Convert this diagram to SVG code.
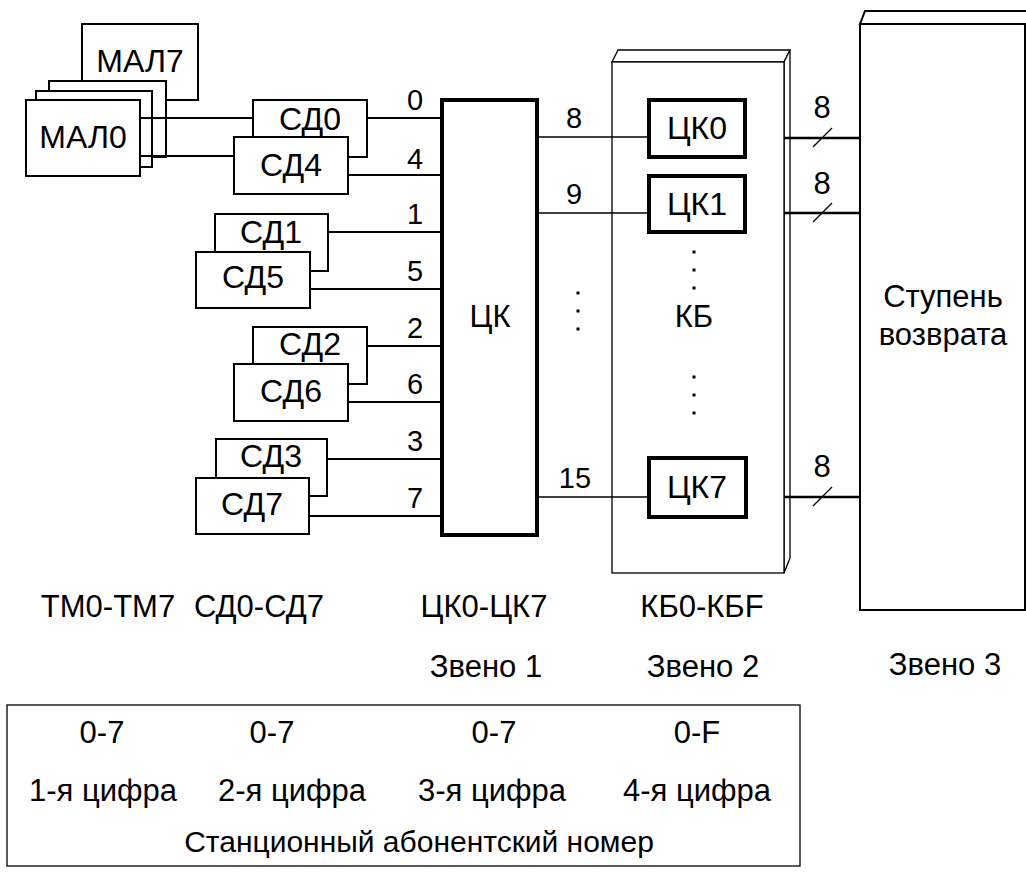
<svg xmlns="http://www.w3.org/2000/svg" width="1026" height="872" viewBox="0 0 1026 872">
<style>
text{font-family:"Liberation Sans",Arial,sans-serif;font-size:31px;fill:#000;text-anchor:middle}
.pin{font-size:29px}
.big{font-size:32px}
.long{font-size:30px}
.box{fill:#fff;stroke:#000;stroke-width:2}
.thick{fill:#fff;stroke:#000;stroke-width:4}
.thin{fill:#fff;stroke:#000;stroke-width:1.3}
.wire{stroke:#000;stroke-width:2;fill:none}
.wire2{stroke:#000;stroke-width:1.7;fill:none}
.bus{stroke:#000;stroke-width:2.4;fill:none}
.slash{stroke:#000;stroke-width:1.3}
.dot{fill:#000}
</style>
<rect width="1026" height="872" fill="#fff"/>

<g id="kb">
<polygon class="thin" points="612,62 618,50 790,50 784,62"/>
<polygon class="thin" points="784,62 790,50 790,558 784,573"/>
<rect class="thin" x="612" y="62" width="172" height="511"/>
<text x="694" y="327">КБ</text>
<rect class="dot" x="692.5" y="250.5" width="3" height="3"/>
<rect class="dot" x="692.5" y="268.5" width="3" height="3"/>
<rect class="dot" x="692.5" y="286.5" width="3" height="3"/>
<rect class="dot" x="692.5" y="375.5" width="3" height="3"/>
<rect class="dot" x="692.5" y="393.5" width="3" height="3"/>
<rect class="dot" x="692.5" y="411.5" width="3" height="3"/>
</g>

<g id="step">
<polygon class="box" points="860,24 865,11 1032,11 1027,24"/>
<rect class="box" x="860" y="24" width="165" height="586"/>
<text x="943" y="307">Ступень</text>
<text x="943" y="345">возврата</text>
</g>

<g id="mal">
<rect class="box" x="82" y="24" width="116" height="76"/>
<text class="big" x="140" y="72">МАЛ7</text>
<rect class="box" x="49" y="81" width="117" height="76"/>
<rect class="box" x="36" y="91" width="116" height="76"/>
<rect class="box" x="26" y="100" width="114" height="76"/>
<text class="big" x="83" y="148">МАЛ0</text>
</g>

<g id="sd04">
<rect class="box" x="253" y="100" width="114" height="57"/>
<text class="big" x="310" y="130">СД0</text>
<rect class="box" x="234" y="137" width="114" height="57"/>
<text class="big" x="291" y="176">СД4</text>
</g>
<g id="sd15">
<rect class="box" x="215" y="214" width="113" height="57"/>
<text class="big" x="271" y="243">СД1</text>
<rect class="box" x="196" y="252" width="114" height="56"/>
<text class="big" x="253" y="288">СД5</text>
</g>
<g id="sd26">
<rect class="box" x="253" y="327" width="114" height="57"/>
<text class="big" x="310" y="355">СД2</text>
<rect class="box" x="234" y="364" width="114" height="57"/>
<text class="big" x="291" y="402">СД6</text>
</g>
<g id="sd37">
<rect class="box" x="216" y="439" width="111" height="57"/>
<text class="big" x="271" y="467">СД3</text>
<rect class="box" x="196" y="478" width="113" height="56"/>
<text class="big" x="252" y="515">СД7</text>
</g>

<g id="ck">
<rect class="thick" x="442" y="100" width="95" height="435"/>
<text x="490" y="327">ЦК</text>
</g>

<g id="ck0"><rect class="thick" x="649" y="100" width="96" height="57"/><text class="big" x="697" y="139">ЦК0</text></g>
<g id="ck1"><rect class="thick" x="649" y="176" width="96" height="56"/><text class="big" x="697" y="215">ЦК1</text></g>
<g id="ck7"><rect class="thick" x="649" y="458" width="97" height="59"/><text class="big" x="697" y="498">ЦК7</text></g>

<g id="connectors">
<line class="wire" x1="140" y1="118" x2="253" y2="118"/>
<line class="wire" x1="140" y1="156" x2="234" y2="156"/>
<line class="wire" x1="367" y1="118" x2="442" y2="118"/>
<line class="wire" x1="348" y1="175" x2="442" y2="175"/>
<line class="wire" x1="328" y1="232" x2="442" y2="232"/>
<line class="wire" x1="310" y1="289" x2="442" y2="289"/>
<line class="wire" x1="367" y1="346" x2="442" y2="346"/>
<line class="wire" x1="348" y1="402" x2="442" y2="402"/>
<line class="wire" x1="327" y1="459" x2="442" y2="459"/>
<line class="wire" x1="309" y1="516" x2="442" y2="516"/>
<line class="wire2" x1="537" y1="137" x2="649" y2="137"/>
<line class="wire2" x1="537" y1="213" x2="649" y2="213"/>
<line class="wire2" x1="537" y1="497" x2="649" y2="497"/>
<line class="bus" x1="784" y1="138" x2="860" y2="138"/>
<line class="bus" x1="784" y1="213" x2="860" y2="213"/>
<line class="bus" x1="784" y1="497" x2="860" y2="497"/>
<line class="slash" x1="813" y1="147" x2="832" y2="128"/>
<line class="slash" x1="813" y1="222" x2="832" y2="203"/>
<line class="slash" x1="813" y1="506" x2="832" y2="487"/>
<rect class="dot" x="576.5" y="291.5" width="3" height="3"/>
<rect class="dot" x="576.5" y="309.5" width="3" height="3"/>
<rect class="dot" x="576.5" y="327.5" width="3" height="3"/>
<text class="pin" x="415" y="110">0</text>
<text class="pin" x="415" y="169">4</text>
<text class="pin" x="415" y="224">1</text>
<text class="pin" x="415" y="281">5</text>
<text class="pin" x="415" y="338">2</text>
<text class="pin" x="415" y="394">6</text>
<text class="pin" x="415" y="451">3</text>
<text class="pin" x="415" y="508">7</text>
<text class="pin" x="574" y="128">8</text>
<text class="pin" x="574" y="204">9</text>
<text class="pin" x="575" y="488">15</text>
<text x="822" y="118">8</text>
<text x="822" y="194">8</text>
<text x="822" y="477">8</text>
</g>

<g id="labels">
<text x="108" y="617">ТМ0-ТМ7</text>
<text x="259" y="617">СД0-СД7</text>
<text x="484" y="617">ЦК0-ЦК7</text>
<text x="702" y="617">КБ0-КБF</text>
<text x="486" y="677">Звено 1</text>
<text x="703" y="677">Звено 2</text>
<text x="945" y="675">Звено 3</text>
</g>

<g id="number-table">
<rect class="thin" x="7" y="705" width="793" height="161"/>
<text x="102" y="743">0-7</text>
<text x="272" y="743">0-7</text>
<text x="494" y="743">0-7</text>
<text x="697" y="743">0-F</text>
<text x="103" y="801">1-я цифра</text>
<text x="292" y="801">2-я цифра</text>
<text x="492" y="801">3-я цифра</text>
<text x="697" y="801">4-я цифра</text>
<text class="long" x="419" y="852">Станционный абонентский номер</text>
</g>
</svg>
